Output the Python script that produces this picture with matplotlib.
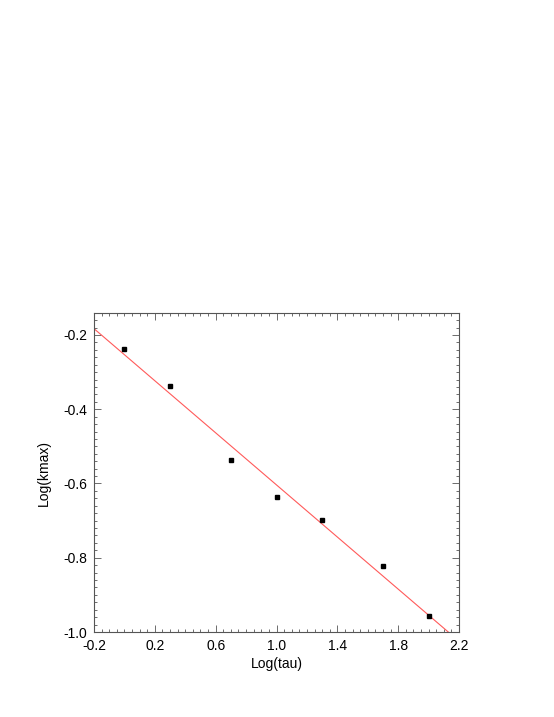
import numpy as np
import matplotlib
matplotlib.use("Agg")
import matplotlib.pyplot as plt
from matplotlib.ticker import MultipleLocator

plt.rcParams['font.family'] = ['Liberation Sans', 'DejaVu Sans']

# log10 of tau = 1, 2, 5, 10, 20, 50, 100
log_tau = [0.0, 0.301, 0.699, 1.0, 1.301, 1.699, 2.0]
log_kmax = [-0.238, -0.337, -0.537, -0.637, -0.698, -0.822, -0.958]

x_ticks = [-0.2, 0.2, 0.6, 1.0, 1.4, 1.8, 2.2]
y_ticks = [-1.0, -0.8, -0.6, -0.4, -0.2]

fig = plt.figure(figsize=(5.54, 7.17), dpi=100)
ax = fig.add_axes([0.1697, 0.1185, 0.6588, 0.445])

# linear fit of the points
slope, intercept = np.polyfit(log_tau, log_kmax, 1)
xx = np.array([-0.2, 2.2])
ax.plot(xx, slope * xx + intercept, color="#ff5a5a", lw=0.8)

ax.plot(log_tau, log_kmax, ls="none", marker="s", ms=3.0, color="black")

ax.set_xlim(-0.2, 2.2)
ax.set_ylim(-1.0, -0.1408)
ax.set_xticks(x_ticks)
ax.set_xticklabels([f"{t:.1f}" for t in x_ticks])
ax.set_yticks(y_ticks)
ax.set_yticklabels([f"{t:.1f}" for t in y_ticks])
ax.xaxis.set_minor_locator(MultipleLocator(0.05))
ax.yaxis.set_minor_locator(MultipleLocator(0.02))

ax.tick_params(which="both", direction="in", top=True, right=True,
               color="#555555", width=0.6, labelsize=10, pad=5)
ax.tick_params(which="major", length=5)
ax.tick_params(which="minor", length=2.5)
for s in ax.spines.values():
    s.set_color("#555555")
    s.set_linewidth(0.8)

ax.set_xlabel("Log(tau)", fontsize=10, labelpad=3)
ax.set_ylabel("Log(kmax)", fontsize=10, labelpad=9)

fig.savefig("out.png", dpi=100)
